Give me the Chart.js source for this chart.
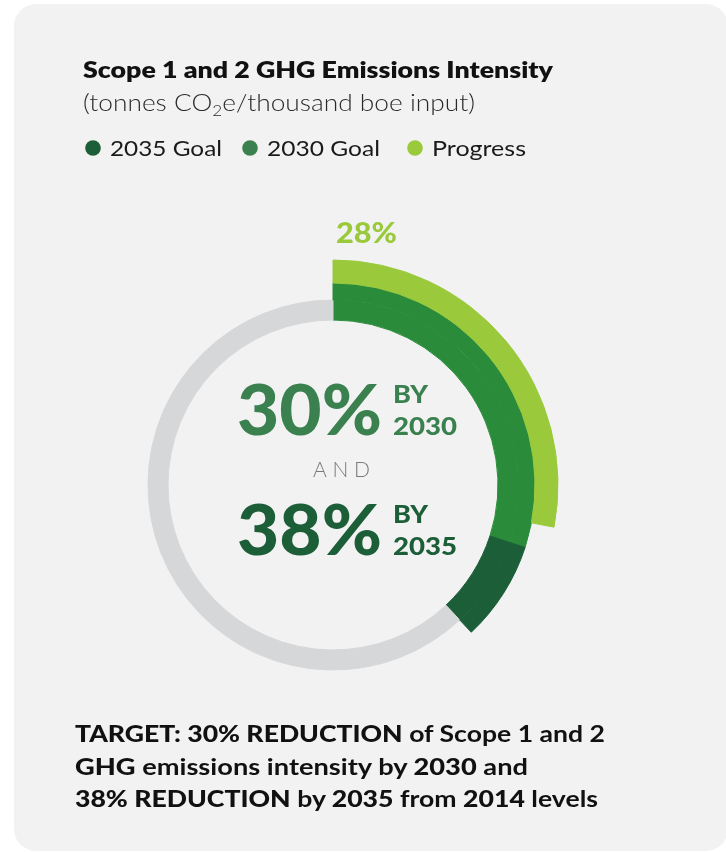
<!DOCTYPE html>
<html>
<head>
<meta charset="utf-8">
<script src="https://cdn.jsdelivr.net/npm/chart.js@4.4.1/dist/chart.umd.min.js"></script>
<style>
  html, body { margin: 0; padding: 0; background: #ffffff; }
  #stage { position: relative; width: 726px; height: 852px; overflow: hidden; }
  #card { position: absolute; left: 14px; top: 4px; width: 714px; height: 847px; background: #f2f2f2; border-radius: 22px; }
  #chartBox { position: absolute; left: 103px; top: 255px; width: 460px; height: 460px; }
  #txt { position: absolute; left: 0; top: 0; width: 726px; height: 852px; pointer-events: none; }
  text { font-family: Lato, "Open Sans", sans-serif; }
</style>
</head>
<body>
<div id="stage">
  <div id="card"></div>
  <div id="chartBox"><canvas id="c" width="460" height="460"></canvas></div>
  <svg id="txt" width="726" height="852" xmlns="http://www.w3.org/2000/svg">
    <text x="83" y="77.5" font-size="22" font-weight="800" fill="#111" textLength="470" lengthAdjust="spacingAndGlyphs">Scope 1 and 2 GHG Emissions Intensity</text>
    <text x="83" y="111" font-size="23" font-weight="300" fill="#2a2a2a" textLength="392" lengthAdjust="spacingAndGlyphs">(tonnes CO<tspan font-size="15" dy="5">2</tspan><tspan dy="-5">e/thousand boe input)</tspan></text>
    <g id="legend"></g>
    <g id="center"></g>
    <text x="75" y="742.3" font-size="23" fill="#111" textLength="530" lengthAdjust="spacingAndGlyphs"><tspan font-weight="900">TARGET: 30% REDUCTION</tspan><tspan font-weight="700"> of Scope 1 and 2</tspan></text>
    <text x="75" y="775" font-size="23" fill="#111" textLength="453" lengthAdjust="spacingAndGlyphs"><tspan font-weight="900">GHG</tspan><tspan font-weight="700"> emissions intensity by </tspan><tspan font-weight="900">2030</tspan><tspan font-weight="700"> and</tspan></text>
    <text x="75" y="807.3" font-size="23" fill="#111" textLength="523" lengthAdjust="spacingAndGlyphs"><tspan font-weight="900">38% REDUCTION</tspan><tspan font-weight="700"> by </tspan><tspan font-weight="900">2035</tspan><tspan font-weight="700"> from </tspan><tspan font-weight="900">2014</tspan><tspan font-weight="700"> levels</tspan></text>
  </svg>
</div>
<script>
// ---- data ----
const categories = ['2035 Goal', '2030 Goal', 'Progress'];
const values = [38, 30, 28];            // percent reduction
const targetYears = ['2035', '2030'];
const legendColors = ['#1c5e38', '#3b8150', '#9aca3c'];

// ---- palette ----
const C_DARK = '#1c5e38', C_MID = '#2a8c3a', C_LIGHT = '#9aca3c', C_TRACK = '#d6d7d9', NONE = 'rgba(0,0,0,0)';

const goal2035 = values[0], goal2030 = values[1], progress = values[2];

const goalSegments = [goal2030, goal2035 - goal2030, 100 - goal2035];
const progressSegments = [progress, 100 - progress];

const ctx = document.getElementById('c').getContext('2d');
new Chart(ctx, {
  type: 'doughnut',
  data: {
    labels: ['a', 'b', 'c'],
    datasets: [
      { label: categories[2], data: progressSegments, weight: 23,
        backgroundColor: [C_LIGHT, NONE], borderColor: [C_LIGHT, NONE], borderWidth: 1 },
      { label: 'goals-outer', data: goalSegments, weight: 17,
        backgroundColor: [C_MID, C_DARK, NONE], borderColor: [C_MID, C_DARK, NONE], borderWidth: 1 },
      { label: 'goals-inner', data: goalSegments, weight: 20,
        backgroundColor: [C_MID, C_DARK, C_TRACK], borderColor: [C_MID, C_DARK, C_TRACK], borderWidth: 1 }
    ]
  },
  options: {
    responsive: false,
    animation: false,
    devicePixelRatio: 1,
    radius: 225,
    cutout: (165 / 225 * 100) + '%',
    layout: { padding: 0 },
    plugins: { legend: { display: false }, tooltip: { enabled: false } },
    events: []
  }
});

// ---- SVG text (real text) ----
const NS = 'http://www.w3.org/2000/svg';
function t(parent, x, y, str, attrs) {
  const el = document.createElementNS(NS, 'text');
  el.setAttribute('x', x); el.setAttribute('y', y);
  for (const k in attrs) el.setAttribute(k, attrs[k]);
  el.textContent = str;
  parent.appendChild(el);
  return el;
}
const lg = document.getElementById('legend');
const legendX = [93, 250, 415];
const legendTextW = [112, 113, 94];
categories.forEach((name, i) => {
  const c = document.createElementNS(NS, 'circle');
  c.setAttribute('cx', legendX[i]); c.setAttribute('cy', 148); c.setAttribute('r', 7.8);
  c.setAttribute('fill', legendColors[i]);
  lg.appendChild(c);
  t(lg, legendX[i] + 17, 156, name, { 'font-size': 22, 'font-weight': 400, fill: '#1a1a1a', textLength: legendTextW[i], lengthAdjust: 'spacingAndGlyphs' });
});

const cg = document.getElementById('center');
t(cg, 336, 243, progress + '%', { 'font-size': 29, 'font-weight': 900, fill: C_LIGHT, textLength: 61, lengthAdjust: 'spacingAndGlyphs' });
t(cg, 237, 435, goal2030 + '%', { 'font-size': 70, 'font-weight': 900, fill: '#3b8150', textLength: 145, lengthAdjust: 'spacingAndGlyphs' });
t(cg, 393, 403, 'BY', { 'font-size': 25, 'font-weight': 900, fill: '#3b8150', textLength: 35, lengthAdjust: 'spacingAndGlyphs' });
t(cg, 393, 435, targetYears[1], { 'font-size': 25, 'font-weight': 900, fill: '#3b8150', textLength: 64, lengthAdjust: 'spacingAndGlyphs' });
t(cg, 313, 477, 'AND', { 'font-size': 21, 'font-weight': 300, fill: '#7a7a7a', textLength: 57, lengthAdjust: 'spacing' });
t(cg, 237, 555, goal2035 + '%', { 'font-size': 70, 'font-weight': 900, fill: C_DARK, textLength: 145, lengthAdjust: 'spacingAndGlyphs' });
t(cg, 393, 523, 'BY', { 'font-size': 25, 'font-weight': 900, fill: C_DARK, textLength: 35, lengthAdjust: 'spacingAndGlyphs' });
t(cg, 393, 555, targetYears[0], { 'font-size': 25, 'font-weight': 900, fill: C_DARK, textLength: 64, lengthAdjust: 'spacingAndGlyphs' });
</script>
</body>
</html>
